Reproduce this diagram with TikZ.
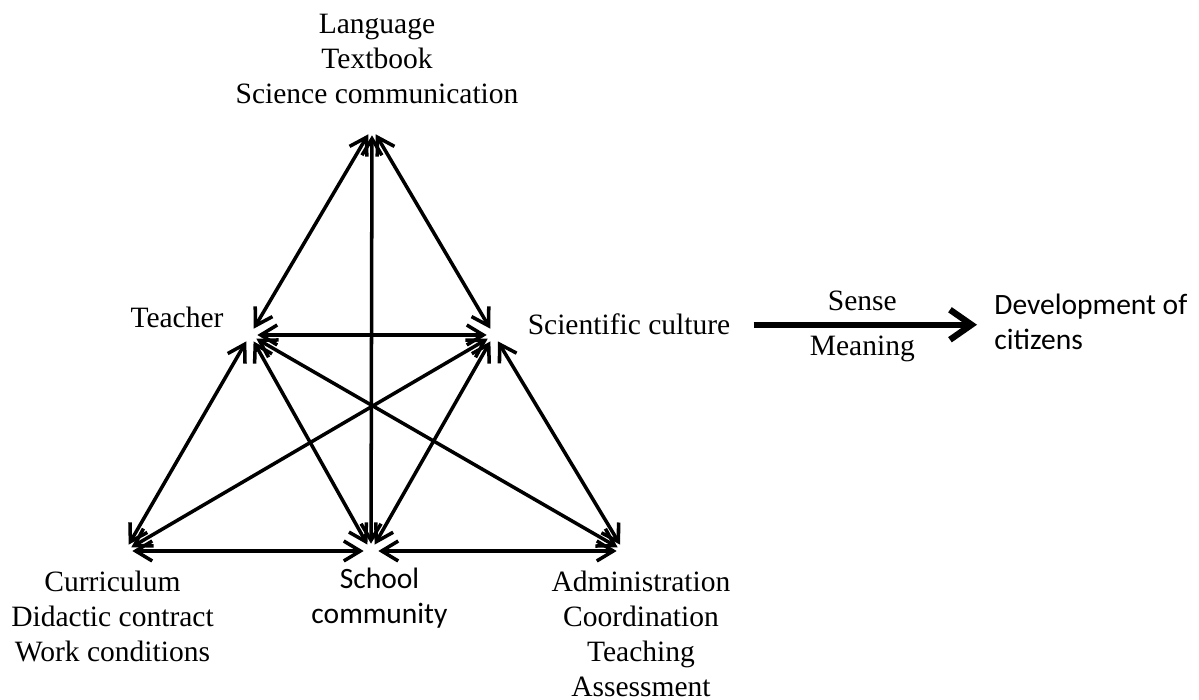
\documentclass[tikz,border=0pt]{standalone}
\usepackage{fontspec}
\setmainfont{Liberation Serif}
\newfontfamily\calibri{Carlito}
\usetikzlibrary{arrows.meta,positioning}

\begin{document}
\begin{tikzpicture}[
  corner/.style={circle,inner sep=0pt,minimum size=0.28cm},
  lbl/.style={inner sep=0pt,font=\fontsize{16.8}{19.9}\selectfont},
  sans/.style={inner sep=0pt,font=\calibri\fontsize{16.8}{19.9}\selectfont},
  link/.style={<->,>={Straight Barb[length=3.3mm,width=4mm]},line width=2pt},
  big/.style={->,>={Straight Barb[length=4.3mm,width=6mm]},line width=3.6pt}
]
\useasboundingbox (0,0) rectangle (23.98,14);
% corners of the triangle
\node[corner] (lang) at (7.44,11.44) {};
\node[corner] (teach) at (5.00,7.30) {};
\node[corner] (sci) at (9.88,7.30) {};
\node[corner] (curr) at (2.50,2.98) {};
\node[corner] (school) at (7.42,2.98) {};
\node[corner] (admin) at (12.48,2.98) {};
% texts
\node[lbl,align=center,anchor=north] (langtxt) at (7.54,13.72) {Language\\Textbook\\Science communication};
\node[lbl,anchor=base] (teachtxt) at (3.54,7.44) {Teacher};
\node[lbl,anchor=base] (scitxt) at (12.58,7.30) {Scientific culture};
\node[sans,align=left,anchor=north west] (devtxt) at (19.88,8.12) {Development of\\citizens};
\node[lbl,align=center,anchor=north] (currtxt) at (2.25,2.59) {Curriculum\\Didactic contract\\Work conditions};
\node[sans,align=center,anchor=north] (schooltxt) at (7.59,2.64) {School\\community};
\node[lbl,align=center,anchor=north] (admintxt) at (12.82,2.59) {Administration\\Coordination\\Teaching\\Assessment};
% links
\draw[link] (lang) to (teach);
\draw[link] (lang) to (sci);
\draw[link] (lang) to (school);
\draw[link] (teach) to (sci);
\draw[link] (teach) to (curr);
\draw[link] (teach) to (school);
\draw[link] (teach) to (admin);
\draw[link] (sci) to (curr);
\draw[link] (sci) to (school);
\draw[link] (sci) to (admin);
\draw[link] (curr) to (school);
\draw[link] (school) to (admin);
\draw[big,shorten <=0.46cm,shorten >=0.34cm] (scitxt.east) -- (scitxt.east -| devtxt.west)
  node[lbl,midway,above=0.22cm] (sense) {Sense}
  node[lbl,midway,below=0.16cm] (meaning) {Meaning};
\end{tikzpicture}
\end{document}
